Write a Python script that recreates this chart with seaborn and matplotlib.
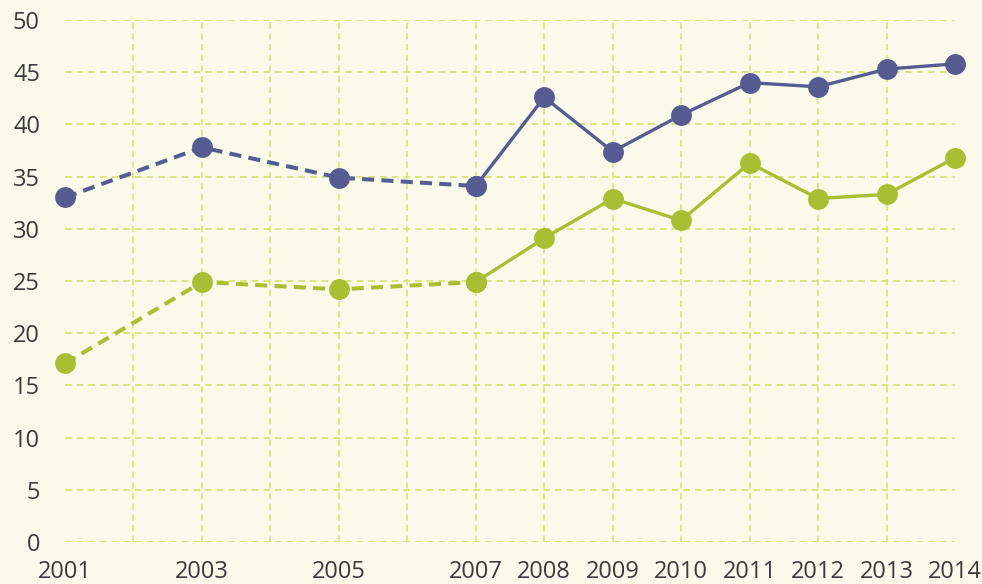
import pandas as pd
import seaborn as sns
import matplotlib.pyplot as plt

plt.switch_backend('agg')

years = [2001, 2003, 2005, 2007, 2008, 2009, 2010, 2011, 2012, 2013, 2014]
blue_vals = [33.0, 37.8, 34.9, 34.1, 42.6, 37.4, 40.9, 44.0, 43.6, 45.3, 45.8]
green_vals = [17.1, 24.9, 24.2, 24.9, 29.1, 32.9, 30.8, 36.3, 32.9, 33.3, 36.8]
yticks = list(range(0, 51, 5))

BLUE = '#565c92'
GREEN = '#a8bf33'
GRID = '#d3e36a'
BG = '#f9faea'
TEXT = '#3b3b3b'

sns.set_theme(style='white')
plt.rcParams['font.family'] = ['Open Sans', 'DejaVu Sans']

fig = plt.figure(figsize=(9.82, 5.84), dpi=100, facecolor=BG)
ax = fig.add_axes([65 / 982, 42 / 584, 890 / 982, 522 / 584])
ax.set_facecolor(BG)

df = pd.DataFrame({'year': years, 'blue': blue_vals, 'green': green_vals})
early = df[df['year'] <= 2007]
late = df[df['year'] >= 2007]

# grid
for y in yticks:
    ax.axhline(y, color=GRID, lw=1.2, ls=(0, (4, 3)), zorder=0)
for x in range(2002, 2014):
    ax.axvline(x, color=GRID, lw=1.1, ls=(0, (4, 3)), zorder=0)

for col, color in [('blue', BLUE), ('green', GREEN)]:
    sns.lineplot(data=early, x='year', y=col, ax=ax, color=color, lw=2.9,
                 marker='o', markersize=15, markeredgewidth=0,
                 linestyle='--', clip_on=False, zorder=3)
    ax.lines[-1].set_dashes((3, 1.8))
    sns.lineplot(data=late, x='year', y=col, ax=ax, color=color, lw=2.4,
                 marker='o', markersize=15, markeredgewidth=0,
                 clip_on=False, zorder=3)

ax.set_xlim(2001, 2014)
ax.set_ylim(0, 50)
ax.set_xticks(years)
ax.set_yticks(yticks)
ax.tick_params(axis='x', length=0, pad=13, labelsize=17, colors=TEXT)
ax.tick_params(axis='y', length=0, pad=18, labelsize=17, colors=TEXT)
ax.set_xlabel('')
ax.set_ylabel('')
sns.despine(ax=ax, left=True, bottom=True)
ax.grid(False)

plt.savefig('out.png', dpi=100, facecolor=BG)
